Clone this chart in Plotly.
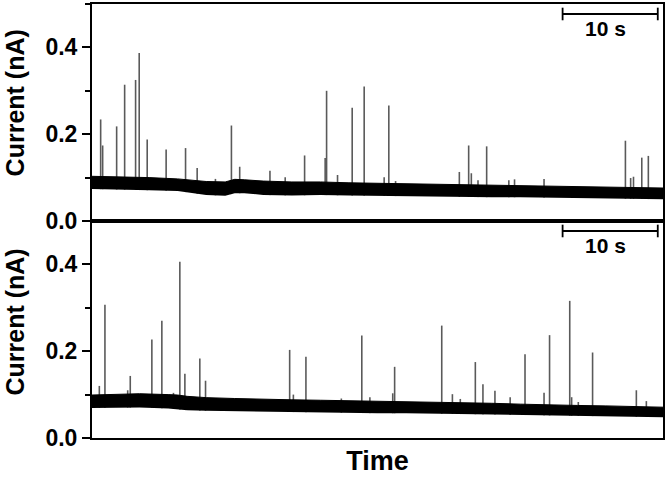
import plotly.graph_objects as go

# ---------------- data ----------------
# spike events: time (s) and peak current (nA)
top_spike_t = [0.91, 1.12, 2.59, 3.43, 4.58, 4.96, 5.80, 7.79, 9.83, 11.05, 12.97, 14.65, 15.52,
               18.7, 20.3, 22.34, 24.5, 24.65, 25.8, 27.34, 28.6, 30.7, 31.19, 31.9, 38.6, 39.58,
               39.86, 40.56, 41.47, 43.8, 44.4, 47.5, 56.05, 56.6, 56.9, 57.77, 58.46]
top_spike_h = [0.234, 0.174, 0.218, 0.314, 0.325, 0.387, 0.188, 0.165, 0.168, 0.122, 0.097, 0.220, 0.125,
               0.116, 0.101, 0.151, 0.145, 0.300, 0.106, 0.261, 0.310, 0.101, 0.266, 0.092, 0.113, 0.174,
               0.110, 0.094, 0.172, 0.094, 0.096, 0.097, 0.185, 0.099, 0.102, 0.146, 0.150]

bot_spike_t = [0.77, 1.36, 3.75, 4.02, 6.29, 7.34, 8.56, 9.23, 9.76, 11.33, 11.93, 20.77, 21.16, 22.48,
               26.2, 28.35, 29.2, 31.6, 31.8, 36.75, 37.87, 38.7, 40.28, 41.08, 42.34, 43.94, 45.5,
               47.5, 48.08, 50.2, 50.4, 51.1, 52.6, 57.2, 58.25]
bot_spike_h = [0.120, 0.307, 0.110, 0.143, 0.227, 0.270, 0.104, 0.406, 0.148, 0.183, 0.132, 0.203, 0.100, 0.187,
               0.091, 0.236, 0.094, 0.103, 0.164, 0.259, 0.101, 0.090, 0.175, 0.124, 0.109, 0.094, 0.193,
               0.104, 0.237, 0.316, 0.094, 0.083, 0.197, 0.110, 0.085]

# baseline noise envelope (nA)
top_env_t = [0, 3, 6, 9, 10.5, 12, 14, 15, 16, 18, 21, 24, 27, 30, 33, 36, 39, 42, 45, 48, 51, 54, 57, 60]
top_env_hi = [0.103, 0.102, 0.100, 0.097, 0.094, 0.091, 0.090, 0.096, 0.095, 0.092, 0.090, 0.090,
              0.088, 0.087, 0.086, 0.085, 0.084, 0.082, 0.082, 0.081, 0.080, 0.079, 0.077, 0.076]
top_env_lo = [0.074, 0.073, 0.071, 0.069, 0.064, 0.060, 0.058, 0.064, 0.064, 0.060, 0.059, 0.060,
              0.059, 0.058, 0.057, 0.056, 0.055, 0.055, 0.055, 0.054, 0.053, 0.053, 0.051, 0.050]

bot_env_t = [0, 3, 5, 8, 9, 10, 12, 15, 18, 21, 24, 27, 30, 33, 36, 39, 42, 45, 48, 51, 54, 57, 60]
bot_env_hi = [0.099, 0.100, 0.102, 0.100, 0.099, 0.096, 0.093, 0.091, 0.089, 0.088, 0.087, 0.086,
              0.085, 0.084, 0.082, 0.081, 0.080, 0.078, 0.076, 0.075, 0.074, 0.073, 0.071]
bot_env_lo = [0.069, 0.070, 0.070, 0.068, 0.066, 0.064, 0.063, 0.062, 0.061, 0.059, 0.058, 0.057,
              0.057, 0.057, 0.056, 0.056, 0.055, 0.053, 0.052, 0.051, 0.050, 0.049, 0.048]

x_range = [0, 60]
y_range = [0, 0.5]
y_ticks = [0.0, 0.2, 0.4]
y_ticklabels = ["0.0", "0.2", "0.4"]
scale_bar_start = 49.45
scale_bar_len = 10
scale_bar_y = 0.477
scale_label = "10 s"
y_title = "Current (nA)"
x_title = "Time"

# ---------------- figure ----------------
FONT = "Liberation Sans, Arial, sans-serif"
fig = go.Figure()

panels = [
    ("x", "y", top_spike_t, top_spike_h, top_env_t, top_env_hi, top_env_lo, 0.271),
    ("x2", "y2", bot_spike_t, bot_spike_h, bot_env_t, bot_env_hi, bot_env_lo, 0.266),
]

for xa, ya, st, sh, et, ehi, elo, title_y in panels:
    xs, ys = [], []
    for t, h in zip(st, sh):
        xs += [t, t, None]
        ys += [0, h, None]
    fig.add_trace(go.Scatter(x=xs, y=ys, mode="lines", xaxis=xa, yaxis=ya,
                             line=dict(color="#5a5a5a", width=1.6), hoverinfo="skip"))
    fig.add_trace(go.Scatter(x=et, y=elo, mode="lines", xaxis=xa, yaxis=ya, fill="tozeroy",
                             fillcolor="white", line=dict(width=0, color="white"), hoverinfo="skip"))
    fig.add_trace(go.Scatter(x=et, y=ehi, mode="lines", xaxis=xa, yaxis=ya, fill="tonexty",
                             fillcolor="black", line=dict(width=1, color="black"), hoverinfo="skip"))
    # scale bar
    fig.add_trace(go.Scatter(x=[scale_bar_start, scale_bar_start + scale_bar_len],
                             y=[scale_bar_y, scale_bar_y], mode="lines+markers", xaxis=xa, yaxis=ya,
                             line=dict(color="black", width=1.8),
                             marker=dict(symbol="line-ns-open", size=9, line=dict(width=1.8, color="black")),
                             hoverinfo="skip"))
    fig.add_annotation(x=scale_bar_start + scale_bar_len / 2 - 0.5, y=0.443, xref=xa, yref=ya,
                       text=scale_label, showarrow=False,
                       font=dict(family=FONT, size=21, color="black", weight="bold"))
    # y-axis title
    fig.add_annotation(x=0, y=title_y, xref="paper", yref=ya, xanchor="center", yanchor="middle",
                       xshift=-77, textangle=-90, text=y_title, showarrow=False,
                       font=dict(family=FONT, size=25, color="black", weight="bold"))

axis_common = dict(showline=True, linecolor="black", linewidth=2, mirror=True,
                   showgrid=False, zeroline=False)

yaxis_common = dict(range=y_range, tickvals=y_ticks, ticktext=y_ticklabels,
                    ticks="outside", ticklen=8, tickwidth=2, tickcolor="black",
                    minor=dict(dtick=0.1, ticks="outside", ticklen=5, tickwidth=1.5, tickcolor="black"),
                    tickfont=dict(family=FONT, size=23, color="black", weight="bold"),
                    **axis_common)

fig.update_layout(
    width=667, height=478,
    margin=dict(l=92, r=3, t=2, b=40),
    paper_bgcolor="white", plot_bgcolor="white",
    showlegend=False,
    xaxis=dict(domain=[0, 1], range=x_range, anchor="y", showticklabels=False, ticks="", **axis_common),
    yaxis=dict(domain=[0.5, 1], anchor="x", **yaxis_common),
    xaxis2=dict(domain=[0, 1], range=x_range, anchor="y2", showticklabels=False, ticks="",
                title=dict(text=x_title, standoff=12,
                           font=dict(family=FONT, size=27, color="black", weight="bold")),
                **axis_common),
    yaxis2=dict(domain=[0, 0.5], anchor="x2", **yaxis_common),
)

fig.write_html("out.html")
